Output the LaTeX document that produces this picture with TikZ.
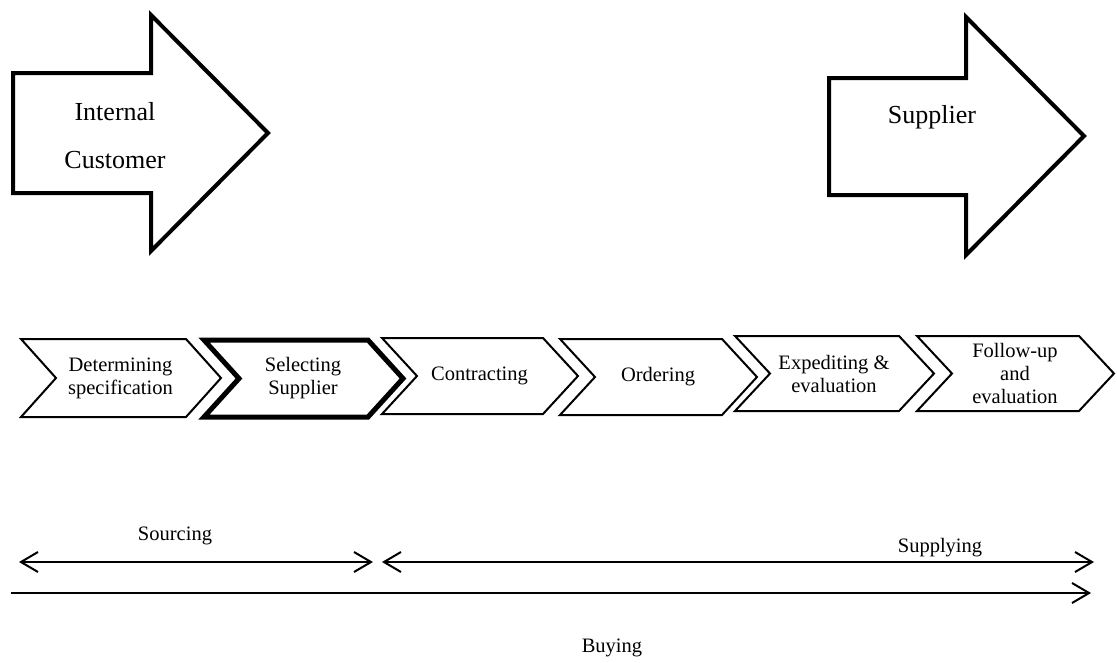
\documentclass[tikz,border=0pt]{standalone}
\usepackage{fontspec}
\setmainfont{Liberation Serif}
\usetikzlibrary{arrows.meta,positioning,calc}
\tikzset{
  bigarrow/.style={draw=black,line width=4pt,fill=white,line join=miter},
  chevbox/.style={draw=black,line width=2pt,fill=white,line join=miter},
  chevsel/.style={chevbox,line width=5pt},
  lbl/.style={font=\fontsize{20.5}{23}\selectfont,align=center,inner sep=0pt},
  biglbl/.style={font=\fontsize{26}{48}\selectfont,align=center,inner sep=0pt},
  span/.style={line width=2pt,{Straight Barb[length=17pt,width=20pt,line width=2pt]}-{Straight Barb[length=17pt,width=20pt,line width=2pt]}},
  spanr/.style={line width=2pt,-{Straight Barb[length=17pt,width=20pt,line width=2pt]}},
}

\begin{document}
\begin{tikzpicture}[x=1pt,y=-1pt]
\useasboundingbox (0,0) rectangle (1117,662);
% top: the two big arrows
\draw[bigarrow] (13,73) -- (151,73) -- (151,15) -- (268,133) -- (151,251) -- (151,193) -- (13,193) -- cycle;
\node[biglbl] (cust) at (115,136) {Internal\\Customer};
\draw[bigarrow] (829,78) -- (966,78) -- (966,17) -- (1084,136) -- (966,255) -- (966,195) -- (829,195) -- cycle;
\node[biglbl] (supp) at (932,117) {Supplier};
% process chevrons
\foreach \L/\R/\T/\B/\s/\n/\t in {21/186/339/417/chevbox/spec/Determining\\specification,
    204/368/340/417/chevsel/select/Selecting\\Supplier,
    382/543/338/414/chevbox/contr/Contracting,
    560/722/339/415/chevbox/order/Ordering,
    735/899/336/411/chevbox/exped/Expediting \&\\evaluation,
    917/1079/336/411/chevbox/follow/Follow-up\\and\\evaluation}
  {\draw[\s] (\L,\T) -- (\R,\T) -- ({\R+35},{(\T+\B)/2}) -- (\R,\B) -- (\L,\B) -- ({\L+35},{(\T+\B)/2}) -- cycle;
   \node[lbl] (\n) at ({(\L+\R)/2+17},{(\T+\B)/2}) {\t};}
% phases
\node[lbl] (sourcing) at (175,536) {Sourcing};
\node[lbl] (supplying) at (940,548) {Supplying};
\node[lbl] (buying) at (612,648) {Buying};
\coordinate (so1) at (19,562);
\coordinate (so2) at (373,562);
\coordinate (su1) at (382,562);
\coordinate (su2) at (1094,562);
\coordinate (bu1) at (11,593);
\coordinate (bu2) at (1091,593);
\draw[span] (so1) -- (so2);
\draw[span] (su1) -- (su2);
\draw[spanr] (bu1) -- (bu2);
\end{tikzpicture}
\end{document}
